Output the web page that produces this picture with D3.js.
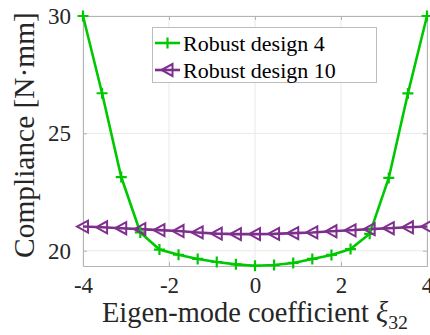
<!DOCTYPE html>
<html><head><meta charset="utf-8">
<script src="https://cdn.jsdelivr.net/npm/d3@7"></script>
<style>body{margin:0;background:#fff}svg{display:block}
.serif{font-family:"Liberation Serif","Times New Roman",serif}</style>
</head><body><svg id="c" width="430" height="335"></svg>
<script>
const xs = [-4,-3.556,-3.111,-2.667,-2.222,-1.778,-1.333,-0.889,-0.444,0,0.444,0.889,1.333,1.778,2.222,2.667,3.111,3.556,4];
const design4 = [30,26.71,23.14,20.78,20.05,19.83,19.65,19.52,19.42,19.36,19.39,19.48,19.65,19.82,20.07,20.72,23.1,26.7,30];
const design10 = [21.03,21.0,20.96,20.92,20.88,20.84,20.78,20.73,20.71,20.71,20.72,20.75,20.78,20.83,20.87,20.92,20.96,21.0,21.03];
const xTicks = [-4,-2,0,2,4];
const yTicks = [20,25,30];
const seriesNames = ["Robust design 4","Robust design 10"];
const colors = ["#00c800","#7e2f8e"];

const svg = d3.select("#c");
const m = {l:83, t:16, r:3, b:69};
const W = 430, H = 335;
const x = d3.scaleLinear().domain([-4,4]).range([m.l, W-m.r]);
const y = d3.scaleLinear().domain([19.35,30]).range([H-m.b, m.t]);
const serif = '"Liberation Serif","Times New Roman",serif';
const axisCol = "#b4b4b4", txtCol = "#262626";

// grid
const g = svg.append("g");
g.selectAll(".gx").data(xTicks).join("line")
  .attr("x1",d=>x(d)).attr("x2",d=>x(d)).attr("y1",y.range()[1]).attr("y2",y.range()[0])
  .attr("stroke","#e8e8e8").attr("stroke-width",1);
g.selectAll(".gy").data(yTicks).join("line")
  .attr("y1",d=>y(d)).attr("y2",d=>y(d)).attr("x1",x.range()[0]).attr("x2",x.range()[1])
  .attr("stroke","#e8e8e8").attr("stroke-width",1);

// axes
const xa = svg.append("g").attr("transform",`translate(0,${H-m.b})`)
  .call(d3.axisBottom(x).tickValues(xTicks).tickSize(-4).tickPadding(11).tickFormat(d=>d<0?"-"+Math.abs(d):String(d)));
const xt = svg.append("g").attr("transform",`translate(0,${m.t})`)
  .call(d3.axisTop(x).tickValues(xTicks).tickSize(-4).tickFormat(""));
const ya = svg.append("g").attr("transform",`translate(${m.l},0)`)
  .call(d3.axisLeft(y).tickValues(yTicks).tickSize(-4).tickPadding(12));
const yr = svg.append("g").attr("transform",`translate(${W-m.r},0)`)
  .call(d3.axisRight(y).tickValues(yTicks).tickSize(-4).tickFormat(""));
[xa,xt,ya,yr].forEach(a=>{
  a.attr("font-family",serif).attr("font-size",23);
  a.selectAll("path,line").attr("stroke",axisCol);
  a.selectAll("text").attr("fill",txtCol).attr("class","serif").attr("font-size",23);
});

// lines
const line = d3.line().x((d,i)=>x(xs[i])).y(d=>y(d));
[design4, design10].forEach((s,k)=>{
  svg.append("path").datum(s).attr("d",line).attr("fill","none")
    .attr("stroke",colors[k]).attr("stroke-width",2.6);
});
function plus(sel, cx, cy, c){
  sel.append("path").attr("d",`M${cx-5.5},${cy}H${cx+5.5}M${cx},${cy-5.5}V${cy+5.5}`)
    .attr("stroke",c).attr("stroke-width",2.2).attr("fill","none");
}
function tri(sel, cx, cy, c){
  sel.append("path").attr("d",`M${cx-6},${cy}L${cx+5},${cy-6}L${cx+5},${cy+6}Z`)
    .attr("stroke",c).attr("stroke-width",2).attr("fill","none");
}
design4.forEach((v,i)=>plus(svg, x(xs[i]), y(v), colors[0]));
design10.forEach((v,i)=>tri(svg, x(xs[i]), y(v), colors[1]));

// legend
const lg = svg.append("g");
lg.append("rect").attr("x",152.5).attr("y",27.5).attr("width",224).attr("height",55)
  .attr("fill","#fff").attr("stroke","#bdbdbd").attr("stroke-width",1);
seriesNames.forEach((n,k)=>{
  const ly = 43 + k*27;
  lg.append("line").attr("x1",155).attr("x2",180).attr("y1",ly).attr("y2",ly)
    .attr("stroke",colors[k]).attr("stroke-width",2.6);
  if(k===0) plus(lg,167.5,ly,colors[0]); else tri(lg,167.5,ly,colors[1]);
  lg.append("text").attr("x",183).attr("y",ly+7.5).text(n).attr("class","serif")
    .attr("fill","#000").attr("font-size",22);
});

// axis labels
const xl = svg.append("text").attr("x",(x.range()[0]+x.range()[1])/2).attr("y",322)
  .attr("text-anchor","middle").attr("fill",txtCol).attr("class","serif")
  .attr("font-size",23);
xl.append("tspan").text("Eigen-mode coefficient ");
xl.append("tspan").text("ξ").attr("font-style","italic");
xl.append("tspan").text("32").attr("dy",5).attr("font-size",16);
// fit x label to reference span (~306px)
let w = xl.node().getComputedTextLength();
let fs = 23*306/w;
xl.attr("font-size",fs); xl.select("tspan:last-child").attr("font-size",fs*0.7).attr("dy",fs*0.25);

const yl = svg.append("text").attr("transform",`translate(34,135) rotate(-90)`)
  .attr("text-anchor","middle").attr("fill",txtCol).attr("class","serif")
  .attr("font-size",25).text("Compliance [N·mm]");
let wy = yl.node().getComputedTextLength();
yl.attr("font-size",25*246/wy);
</script></body></html>
